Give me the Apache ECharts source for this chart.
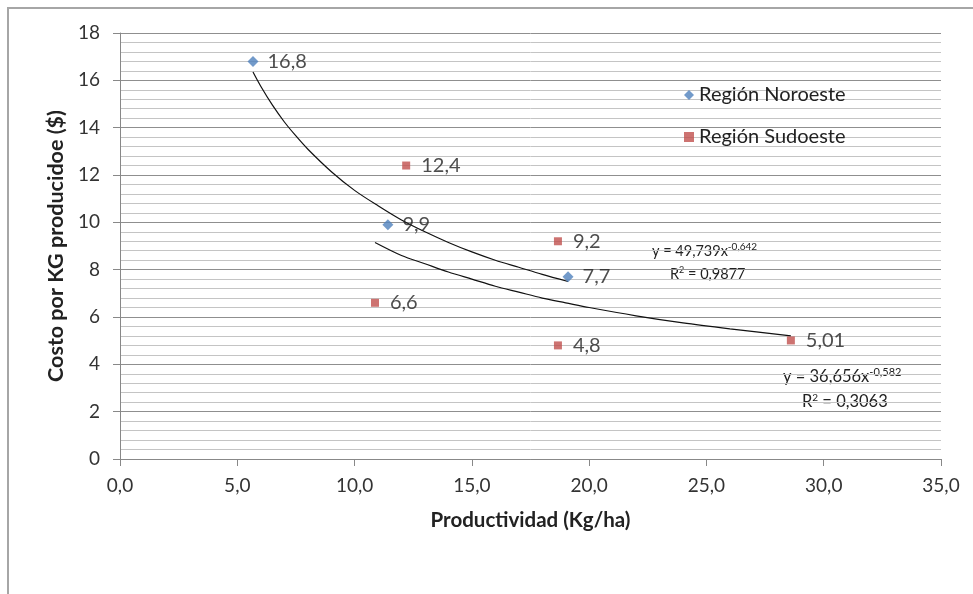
<!DOCTYPE html>
<html>
<head>
<meta charset="utf-8">
<script src="https://cdn.jsdelivr.net/npm/echarts@6/dist/echarts.min.js"></script>
<style>
  html, body { margin: 0; padding: 0; background: #fff; }
  #main { width: 973px; height: 594px; }
</style>
</head>
<body>
<div id="main"></div>
<script>
// puntos medidos
const noroeste = [[5.67, 16.8], [11.42, 9.9], [19.1, 7.7]];
const sudoeste = [[12.2, 12.4], [18.67, 9.2], [10.87, 6.6], [18.67, 4.8], [28.6, 5.01]];

// lineas de tendencia
const trendNoroeste = [[5.67, 16.35], [6, 15.75], [6.5, 14.95], [7, 14.25], [7.5, 13.65], [8, 13.1], [9, 12.15], [10, 11.35],
  [11, 10.7], [12, 10.1], [13, 9.6], [14, 9.15], [15, 8.75], [16, 8.4], [17, 8.1], [18, 7.8], [19.1, 7.5]];
const trendSudoeste = [[10.87, 9.15], [12, 8.6], [13, 8.25], [14, 7.9], [15, 7.6], [16, 7.3], [17, 7.05],
  [18, 6.8], [19, 6.6], [20, 6.4], [22, 6.05], [24, 5.75], [26, 5.5], [28.6, 5.2]];

const seriesNames = ['Región Noroeste', 'Región Sudoeste'];
const FONT = 'Lato, "Open Sans", sans-serif';

const fmtComma = (v) => String(v).replace('.', ',');

const chart = echarts.init(document.getElementById('main'));

chart.setOption({
  animation: false,
  backgroundColor: '#fff',
  textStyle: { fontFamily: FONT },
  grid: { left: 120, top: 33, width: 821, height: 426 },
  legend: {
    orient: 'vertical',
    left: 679,
    top: 80,
    itemGap: 22,
    itemWidth: 10,
    itemHeight: 10,
    textStyle: { fontSize: 20, color: '#222', fontFamily: FONT },
    data: [
      { name: seriesNames[0], icon: 'diamond' },
      { name: seriesNames[1], icon: 'path://M1.5,1.5L8.5,1.5L8.5,8.5L1.5,8.5Z' }
    ]
  },
  xAxis: {
    type: 'value',
    min: 0,
    max: 35,
    interval: 5,
    name: 'Productividad (Kg/ha)',
    nameLocation: 'middle',
    nameGap: 51,
    nameTextStyle: { fontSize: 20.5, fontWeight: 'bold', color: '#222', fontFamily: FONT },
    axisLine: { show: true, onZero: false, lineStyle: { color: '#888', width: 1 } },
    axisTick: { show: true, inside: false, length: 7, lineStyle: { color: '#888' } },
    axisLabel: {
      fontSize: 19, color: '#333', margin: 17,
      formatter: (v) => v.toFixed(1).replace('.', ',')
    },
    splitLine: { show: false }
  },
  yAxis: {
    type: 'value',
    min: 0,
    max: 18,
    interval: 2,
    name: 'Costo por KG producidoe ($)',
    nameLocation: 'middle',
    nameGap: 49,
    nameTextStyle: { fontSize: 21.5, fontWeight: 'bold', color: '#222', fontFamily: FONT },
    axisLine: { show: true, lineStyle: { color: '#888', width: 1 } },
    axisTick: { show: true, inside: false, length: 7, lineStyle: { color: '#888' } },
    axisLabel: { fontSize: 19, color: '#333', margin: 20 },
    splitLine: { show: true, lineStyle: { color: '#8f8f8f', width: 1 } },
    minorTick: { show: false, splitNumber: 5 },
    minorSplitLine: { show: true, lineStyle: { color: '#c4c4c4', width: 1 } }
  },
  series: [
    {
      name: seriesNames[0],
      type: 'scatter',
      symbol: 'diamond',
      symbolSize: 11,
      itemStyle: { color: '#4F81BD' },
      label: {
        show: true, position: 'right', distance: 9,
        fontSize: 20, color: '#222', fontFamily: FONT,
        formatter: (p) => fmtComma(p.value[1])
      },
      data: noroeste,
      z: 5
    },
    {
      name: seriesNames[1],
      type: 'scatter',
      symbol: 'rect',
      symbolSize: 8,
      itemStyle: { color: '#C0504D' },
      label: {
        show: true, position: 'right', distance: 11,
        fontSize: 20, color: '#222', fontFamily: FONT,
        formatter: (p) => fmtComma(p.value[1])
      },
      data: sudoeste,
      z: 5
    },
    {
      name: 'tend1',
      type: 'line',
      smooth: 0.3,
      showSymbol: false,
      silent: true,
      lineStyle: { color: '#111', width: 1.2 },
      data: trendNoroeste,
      z: 3
    },
    {
      name: 'tend2',
      type: 'line',
      smooth: 0.3,
      showSymbol: false,
      silent: true,
      lineStyle: { color: '#111', width: 1.2 },
      data: trendSudoeste,
      z: 3
    }
  ],
  graphic: [
    {
      type: 'rect',
      shape: { x: 8, y: 8, width: 1000, height: 620 },
      style: { fill: 'none', stroke: '#a6a6a6', lineWidth: 2 },
      silent: true,
      z: -1
    },
    {
      type: 'text', left: 652, top: 242,
      style: {
        text: '{b|y = 49,739x}{s|-0,642}',
        rich: {
          b: { fontSize: 14.5, fill: '#222', fontFamily: FONT },
          s: { fontSize: 10, fill: '#222', fontFamily: FONT, padding: [0, 0, 8, 0] }
        }
      }
    },
    {
      type: 'text', left: 670, top: 266,
      style: {
        text: '{b|R}{s|2}{b| = 0,9877}',
        rich: {
          b: { fontSize: 14.5, fill: '#222', fontFamily: FONT },
          s: { fontSize: 9, fill: '#222', fontFamily: FONT, padding: [0, 0, 7, 0] }
        }
      }
    },
    {
      type: 'text', left: 783, top: 367,
      style: {
        text: '{b|y = 36,656x}{s|-0,582}',
        rich: {
          b: { fontSize: 16.5, fill: '#222', fontFamily: FONT },
          s: { fontSize: 11, fill: '#222', fontFamily: FONT, padding: [0, 0, 9, 0] }
        }
      }
    },
    {
      type: 'text', left: 802, top: 393,
      style: {
        text: '{b|R}{s|2}{b| = 0,3063}',
        rich: {
          b: { fontSize: 16.5, fill: '#222', fontFamily: FONT },
          s: { fontSize: 10, fill: '#222', fontFamily: FONT, padding: [0, 0, 8, 0] }
        }
      }
    }
  ]
});
</script>
</body>
</html>
